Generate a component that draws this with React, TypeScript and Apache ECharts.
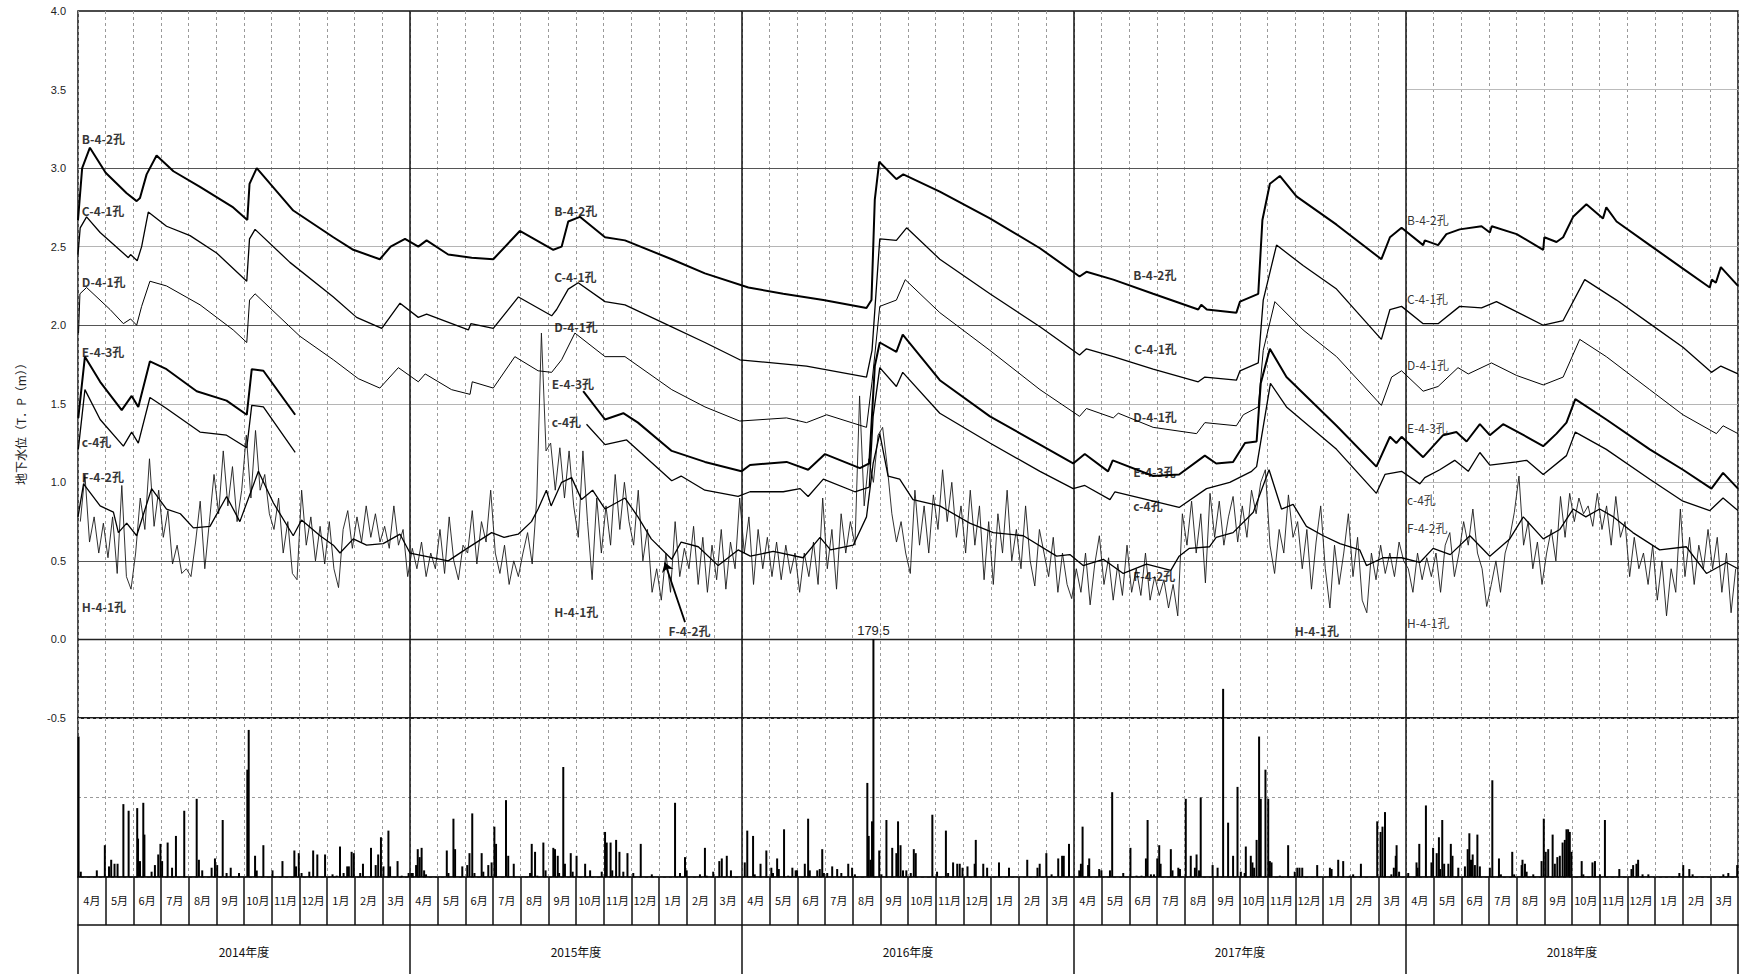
import React, { useEffect, useRef } from 'react';
import * as echarts from 'echarts';

// x = months since April 2014 (0..60), y = T.P. (m)
const MONTHS = ['4月', '5月', '6月', '7月', '8月', '9月', '10月', '11月', '12月', '1月', '2月', '3月'];
const YEARS = ['2014年度', '2015年度', '2016年度', '2017年度', '2018年度'];

const B42: (number | null)[][] = [[0,2.67],[0.15,3.0],[0.43,3.13],[1.0,2.97],[1.76,2.84],[2.12,2.79],[2.24,2.81],[2.48,2.96],[2.84,3.08],[3.45,2.98],[4.41,2.88],[5.61,2.75],[6.12,2.67],[6.2,2.9],[6.46,3.0],[7.78,2.73],[9.23,2.56],[9.95,2.48],[10.91,2.42],[11.3,2.5],[11.82,2.55],[12.3,2.5],[12.6,2.54],[13.38,2.45],[14.23,2.43],[15.01,2.42],[15.97,2.6],[17.18,2.48],[17.48,2.5],[17.72,2.66],[18.14,2.69],[19.05,2.56],[19.77,2.54],[21.46,2.42],[22.66,2.33],[24.23,2.24],[25.49,2.2],[26.94,2.16],[28.5,2.11],[28.68,2.16],[28.8,2.8],[28.96,3.04],[29.58,2.93],[29.83,2.96],[31.15,2.85],[32.96,2.68],[34.77,2.49],[36.2,2.31],[36.45,2.34],[37.42,2.29],[38.86,2.2],[40.49,2.1],[40.6,2.13],[40.8,2.1],[41.87,2.08],[42.0,2.15],[42.66,2.2],[42.81,2.67],[43.08,2.9],[43.44,2.95],[44.04,2.82],[45.49,2.64],[47.11,2.42],[47.42,2.56],[47.84,2.62],[48.62,2.51],[48.68,2.54],[49.16,2.51],[49.46,2.58],[49.94,2.61],[50.73,2.63],[51.03,2.59],[51.1,2.63],[52.0,2.58],[52.96,2.48],[53.0,2.56],[53.44,2.53],[53.68,2.56],[54.04,2.69],[54.52,2.77],[55.12,2.68],[55.24,2.75],[55.61,2.66],[56.81,2.51],[58.01,2.36],[58.98,2.24],[59.05,2.29],[59.2,2.27],[59.38,2.37],[60,2.25]];

const C41: (number | null)[][] = [[0,2.45],[0.08,2.62],[0.31,2.69],[0.8,2.59],[1.82,2.43],[1.9,2.45],[2.14,2.41],[2.3,2.5],[2.54,2.72],[3.2,2.63],[4.05,2.57],[5.01,2.46],[6.1,2.28],[6.2,2.55],[6.4,2.61],[7.66,2.4],[9.23,2.18],[10.07,2.05],[10.98,1.98],[11.64,2.14],[12.3,2.05],[12.6,2.07],[14.11,1.97],[14.2,2.01],[15.01,1.98],[15.92,2.18],[17.12,2.06],[17.3,2.1],[17.72,2.23],[18.08,2.27],[19.05,2.15],[19.77,2.13],[21.46,1.99],[22.66,1.89],[23.92,1.78],[26.33,1.74],[28.5,1.67],[28.7,1.84],[28.98,2.55],[29.58,2.54],[29.95,2.62],[31.15,2.42],[32.96,2.2],[34.77,1.99],[36.2,1.81],[36.45,1.85],[37.42,1.8],[38.86,1.72],[40.49,1.64],[40.73,1.67],[41.87,1.65],[42.0,1.71],[42.66,1.76],[42.84,2.16],[43.32,2.51],[44.28,2.38],[45.49,2.23],[47.11,1.91],[47.42,2.1],[47.84,2.12],[48.62,2.01],[49.16,2.01],[49.94,2.12],[50.73,2.11],[51.27,2.15],[52.96,2.0],[53.68,2.03],[54.46,2.29],[55.61,2.16],[56.81,2.01],[58.01,1.86],[59.04,1.7],[59.38,1.74],[60,1.69]];

const D41: (number | null)[][] = [[0.02,1.95],[0.07,2.2],[0.31,2.24],[1.16,2.1],[1.64,2.01],[1.9,2.04],[2.12,2.0],[2.3,2.12],[2.6,2.28],[3.2,2.25],[4.41,2.13],[5.61,1.97],[6.1,1.89],[6.2,2.16],[6.4,2.2],[8.02,1.93],[9.23,1.78],[10.13,1.66],[10.91,1.6],[11.58,1.73],[12.3,1.64],[12.55,1.69],[13.5,1.59],[14.17,1.56],[14.25,1.64],[15.01,1.6],[15.79,1.8],[16.63,1.71],[17.12,1.7],[17.48,1.78],[17.96,1.95],[19.05,1.8],[19.77,1.8],[21.46,1.59],[22.66,1.48],[23.92,1.39],[25.61,1.41],[26.33,1.38],[27.06,1.43],[28.5,1.35],[28.7,1.64],[28.98,2.12],[29.58,2.16],[29.9,2.29],[31.15,2.08],[32.96,1.84],[34.77,1.59],[36.2,1.42],[36.45,1.47],[37.42,1.41],[37.6,1.44],[38.86,1.35],[40.43,1.31],[40.73,1.38],[41.87,1.36],[42.12,1.43],[42.66,1.48],[42.84,1.84],[43.26,2.15],[44.28,1.97],[45.49,1.8],[47.11,1.49],[47.48,1.67],[47.84,1.71],[48.62,1.58],[49.16,1.61],[49.88,1.73],[50.25,1.69],[51.09,1.76],[52.0,1.68],[52.96,1.62],[53.68,1.67],[54.28,1.91],[55.24,1.8],[56.81,1.59],[58.01,1.43],[59.22,1.31],[59.46,1.36],[60,1.31]];

const E43: (number | null)[][] = [[0.01,1.41],[0.25,1.8],[0.8,1.64],[1.58,1.46],[1.94,1.55],[2.18,1.48],[2.6,1.77],[3.2,1.72],[4.29,1.58],[5.37,1.52],[6.1,1.43],[6.28,1.72],[6.7,1.71],[7.85,1.43],[13,null],[18.26,1.58],[19.05,1.4],[19.71,1.44],[20.24,1.38],[21.46,1.2],[22.66,1.13],[23.98,1.07],[24.29,1.11],[25.61,1.13],[26.39,1.08],[27.0,1.18],[28.26,1.09],[28.6,1.12],[28.8,1.74],[28.98,1.89],[29.58,1.83],[29.81,1.94],[31.15,1.65],[32.96,1.42],[34.77,1.24],[35.97,1.12],[36.39,1.18],[37.23,1.07],[37.4,1.14],[38.86,1.04],[39.8,1.05],[40.73,1.17],[41.14,1.12],[41.75,1.13],[42.18,1.25],[42.6,1.26],[42.75,1.63],[43.08,1.85],[43.68,1.67],[45.49,1.36],[46.93,1.1],[47.42,1.29],[47.65,1.25],[47.84,1.29],[48.62,1.16],[49.34,1.3],[49.82,1.32],[50.19,1.26],[50.67,1.37],[51.03,1.3],[51.51,1.37],[52.36,1.29],[52.96,1.23],[53.44,1.31],[53.8,1.38],[54.12,1.53],[55.24,1.4],[56.81,1.21],[58.01,1.08],[59.04,0.96],[59.46,1.06],[60,0.96]];

const C4: (number | null)[][] = [[0.01,1.21],[0.25,1.59],[0.8,1.4],[1.64,1.23],[1.94,1.32],[2.18,1.25],[2.6,1.54],[3.2,1.47],[4.41,1.32],[5.37,1.3],[6.1,1.22],[6.28,1.49],[6.7,1.48],[7.85,1.19],[13,null],[18.38,1.37],[19.05,1.24],[19.83,1.27],[21.46,1.01],[21.8,1.04],[22.66,0.95],[23.86,0.91],[24.29,0.94],[25.49,0.94],[26.1,0.96],[26.39,0.91],[26.94,1.02],[28.08,0.94],[28.6,0.97],[28.74,1.42],[28.98,1.73],[29.58,1.61],[29.81,1.7],[31.15,1.44],[32.96,1.25],[34.77,1.07],[35.97,0.96],[36.39,0.98],[37.3,0.89],[37.48,0.94],[39.8,0.84],[40.79,0.96],[41.63,1.0],[42.42,1.07],[42.6,1.1],[43.1,1.63],[43.68,1.48],[45.49,1.21],[46.93,0.93],[47.24,1.05],[47.84,1.07],[48.5,0.99],[48.68,1.03],[49.22,1.08],[49.76,1.14],[50.25,1.07],[50.67,1.19],[51.03,1.11],[52.0,1.13],[52.36,1.14],[52.96,1.05],[53.8,1.17],[54.12,1.32],[55.24,1.21],[56.81,1.02],[58.01,0.88],[58.98,0.82],[59.46,0.9],[60,0.82]];

const F42: (number | null)[][] = [[0,0.78],[0.2,0.99],[0.8,0.85],[1.28,0.81],[1.46,0.68],[1.76,0.74],[2.12,0.66],[2.66,0.96],[3.2,0.83],[3.7,0.8],[4.17,0.71],[4.77,0.72],[5.37,0.91],[5.85,0.75],[6.52,1.07],[7.06,0.87],[7.78,0.66],[8.08,0.76],[8.75,0.66],[9.23,0.6],[9.47,0.55],[9.95,0.64],[10.43,0.6],[11.03,0.61],[11.64,0.67],[12.0,0.55],[13.38,0.5],[13.98,0.57],[14.95,0.68],[15.4,0.65],[15.91,0.67],[16.39,0.75],[16.63,0.83],[16.93,0.95],[17.1,0.85],[17.48,1.0],[17.84,1.03],[18.2,0.89],[18.6,0.95],[19.05,0.83],[19.77,0.9],[20.24,0.78],[20.72,0.64],[21.46,0.51],[21.8,0.62],[22.42,0.59],[23.14,0.47],[23.86,0.57],[24.3,0.53],[25.13,0.56],[26.21,0.52],[26.82,0.65],[27.2,0.57],[28.02,0.6],[28.5,0.78],[28.74,1.12],[28.98,1.31],[29.28,1.04],[29.7,1.02],[30.18,0.89],[31.15,0.85],[32.23,0.74],[33.08,0.68],[34.17,0.66],[35.37,0.53],[35.85,0.54],[36.33,0.47],[37.06,0.51],[37.78,0.42],[38.62,0.48],[39.5,0.44],[39.8,0.53],[40.17,0.58],[40.9,0.59],[41.14,0.65],[41.75,0.68],[42.48,0.81],[43.05,1.08],[43.5,0.83],[43.92,0.86],[44.4,0.72],[45.01,0.66],[45.61,0.61],[46.33,0.57],[46.57,0.47],[47.17,0.52],[47.84,0.52],[48.5,0.49],[48.98,0.58],[49.6,0.54],[50.31,0.66],[51.03,0.53],[51.75,0.64],[52.24,0.78],[52.96,0.64],[53.56,0.7],[54.04,0.83],[54.5,0.78],[55.0,0.83],[55.5,0.78],[56.2,0.68],[57.17,0.57],[58.13,0.59],[58.86,0.42],[59.58,0.49],[60,0.45]];

// H-4-1孔: six readings per month, April 2014 .. March 2019
const H41: number[] = [
  0.75,1.05,0.62,0.78,0.55,0.74, 0.52,0.78,0.42,0.98,0.40,0.32, 0.55,0.90,0.70,1.15,0.72,0.95,
  0.65,0.82,0.48,0.60,0.42,0.45, 0.40,0.62,0.88,0.45,0.75,1.05, 0.80,1.20,0.85,1.10,0.75,0.95,
  1.30,0.90,1.33,0.95,1.05,0.80, 0.70,0.90,0.55,0.75,0.42,0.38, 0.95,0.60,0.78,0.50,0.72,0.48,
  0.75,0.45,0.33,0.70,0.82,0.58, 0.78,0.62,0.85,0.65,0.80,0.62, 0.72,0.58,0.85,0.60,0.70,0.40,
  0.58,0.45,0.62,0.40,0.55,0.45, 0.70,0.42,0.78,0.50,0.38,0.60, 0.55,0.82,0.48,0.75,0.62,0.95,
  0.55,0.42,0.60,0.35,0.50,0.40, 0.55,0.68,0.48,0.90,1.95,1.20, 1.25,0.95,1.22,0.90,1.20,0.85,
  0.65,1.20,0.75,0.38,0.90,0.55, 0.85,0.60,1.05,0.70,1.00,0.75, 0.60,0.95,0.50,0.70,0.30,0.45,
  0.25,0.55,0.30,0.75,0.40,0.58, 0.45,0.72,0.35,0.65,0.30,0.60, 0.38,0.70,0.32,0.62,0.45,0.90,
  0.55,0.78,0.35,0.70,0.45,0.65, 0.40,0.62,0.38,0.60,0.42,0.55, 0.30,0.55,0.40,0.62,0.35,0.90,
  0.45,0.70,0.32,0.80,0.55,0.75, 0.60,1.55,0.85,1.15,1.00,1.30, 1.35,1.10,0.80,0.62,0.75,0.55,
  0.42,0.95,0.60,0.85,0.55,0.92, 0.70,1.08,0.75,1.00,0.65,0.85, 0.55,0.95,0.60,0.85,0.38,0.75,
  0.35,0.80,0.55,0.95,0.50,0.70, 0.45,0.85,0.50,0.34,0.70,0.55, 0.40,0.65,0.30,0.55,0.35,0.26,
  0.45,0.30,0.55,0.22,0.48,0.66, 0.35,0.52,0.25,0.48,0.28,0.60, 0.30,0.45,0.28,0.55,0.25,0.40,
  0.28,0.38,0.20,0.35,0.15,0.80, 0.60,0.88,0.55,0.80,0.36,0.93, 0.65,0.88,0.60,0.78,0.91,0.62,
  0.85,0.65,0.95,0.80,1.00,1.08, 0.60,0.42,0.70,0.55,0.92,0.65, 0.75,0.45,0.70,0.32,0.62,0.85,
  0.45,0.20,0.60,0.35,0.55,0.80, 0.40,0.65,0.25,0.17,0.55,0.38, 0.60,0.42,0.55,0.40,0.62,0.50,
  0.45,0.30,0.55,0.38,0.52,0.40, 0.55,0.30,0.60,0.68,0.40,0.55, 0.75,0.60,0.83,0.55,0.45,0.21,
  0.35,0.50,0.30,0.55,0.65,0.81, 1.04,0.60,0.75,0.45,0.62,0.35, 0.55,0.70,0.50,0.91,0.65,0.93,
  0.75,0.90,0.80,0.85,0.72,0.93, 0.70,0.85,0.60,0.91,0.65,0.75, 0.40,0.65,0.45,0.55,0.35,0.60,
  0.25,0.50,0.15,0.45,0.30,0.83, 0.40,0.65,0.35,0.60,0.45,0.70, 0.45,0.65,0.30,0.55,0.17,0.45,
];

// daily rainfall (mm): [month position, mm]
const RAIN: number[][] = [
  [0.02,106],[0.1,4],[0.68,5],[0.97,24],[1.12,8],[1.2,13],[1.32,10],[1.43,10],[1.64,55],[1.83,50],[2.14,52],[2.17,29],[2.24,12],[2.36,56],[2.4,32],[2.66,4],[2.78,9],[2.9,17],[2.98,25],[3.04,12],[3.24,26],[3.4,7],[3.54,31],[3.84,50],[4.29,59],[4.37,13],[4.49,5],[4.83,7],[4.95,14],[5.03,9],[5.23,43],[5.37,3],[5.52,7],[5.82,3],[6.12,81],[6.17,111],[6.4,16],[6.46,5],[6.7,24],[7.03,5],[7.39,12],[7.82,20],[7.88,8],[7.98,18],[8.08,3],[8.36,4],[8.5,20],[8.65,17],[8.93,17],[9.2,2],[9.35,1],[9.47,23],[9.6,3],[9.73,8],[9.79,8],[9.89,19],[9.97,18],[10.2,3],[10.3,10],[10.59,22],[10.76,9],[10.85,17],[10.95,30],[11.04,8],[11.22,35],[11.28,8],[11.55,12],[11.7,1],[11.95,3],
  [12.04,3],[12.1,3],[12.22,9],[12.28,21],[12.35,15],[12.42,22],[12.51,5],[12.58,2],[13.33,20],[13.39,3],[13.57,44],[13.63,21],[13.89,8],[14.07,9],[14.15,18],[14.25,48],[14.33,3],[14.59,18],[14.65,4],[14.83,9],[14.95,11],[15.05,38],[15.11,25],[15.47,58],[15.55,16],[15.75,10],[16.34,3],[16.4,25],[16.52,19],[16.6,1],[16.82,26],[16.9,5],[17.18,22],[17.24,21],[17.34,16],[17.39,3],[17.54,83],[17.6,10],[17.81,18],[17.88,4],[18.02,16],[18.33,10],[18.51,5],[18.93,4],[19.05,34],[19.11,26],[19.25,26],[19.31,5],[19.45,28],[19.57,19],[19.71,4],[19.86,18],[20.07,3],[20.34,25],[20.74,2],[21.58,56],[21.76,3],[21.94,15],[22.0,5],[22.48,2],[22.66,22],[22.72,1],[22.96,4],[23.18,12],[23.27,14],[23.45,16],[23.6,5],
  [24.1,11],[24.19,35],[24.4,31],[24.46,2],[24.67,10],[24.88,20],[25.06,7],[25.12,3],[25.27,14],[25.33,6],[25.52,36],[25.67,1],[25.82,7],[25.94,5],[25.99,5],[26.27,10],[26.39,44],[26.45,5],[26.72,5],[26.81,6],[26.9,21],[26.96,3],[27.08,3],[27.26,8],[27.44,6],[27.59,3],[27.84,10],[27.98,7],[28.08,2],[28.53,71],[28.58,31],[28.64,13],[28.7,42],[28.75,179.5],[28.96,20],[29.04,2],[29.22,43],[29.43,22],[29.58,18],[29.64,42],[29.73,24],[29.82,5],[29.94,5],[30.1,3],[30.21,21],[30.28,18],[30.88,47],[31.05,4],[31.37,35],[31.45,3],[31.63,11],[31.78,10],[31.87,10],[31.97,7],[32.15,8],[32.41,10],[32.45,28],[32.72,10],[32.86,7],[33.29,11],[33.65,7],[34.31,13],[34.68,7],[34.76,10],[35.0,18],[35.19,2],[35.43,14],[35.57,16],[35.63,16],[35.82,25],
  [36.19,5],[36.25,10],[36.31,38],[36.51,9],[36.55,14],[36.91,6],[36.99,5],[37.3,5],[37.38,64],[37.78,3],[38.04,22],[38.26,1],[38.44,1],[38.6,14],[38.66,43],[38.78,2],[38.89,2],[39.01,14],[39.08,24],[39.13,10],[39.5,21],[39.56,5],[39.77,7],[39.83,6],[40.04,59],[40.22,16],[40.37,7],[40.43,17],[40.52,5],[40.58,60],[41.01,9],[41.19,7],[41.39,142],[41.57,41],[41.75,16],[41.91,68],[42.03,4],[42.17,3],[42.21,23],[42.39,16],[42.45,11],[42.51,7],[42.6,28],[42.69,106],[42.75,59],[42.92,81],[43.02,59],[43.08,12],[43.14,11],[43.44,1],[43.74,24],[43.98,4],[44.07,7],[44.15,7],[44.25,7],[44.79,9],[45.25,7],[45.31,6],[45.55,13],[45.73,12],[45.97,1],[46.09,2],[46.37,10],[46.96,42],[47.08,34],[47.15,38],[47.24,49],[47.47,2],[47.56,7],[47.63,16],[47.66,24],[47.75,4],
  [48.08,3],[48.38,11],[48.42,7],[48.48,25],[48.72,54],[48.92,11],[48.98,22],[49.11,18],[49.19,30],[49.23,6],[49.31,43],[49.38,10],[49.53,10],[49.62,25],[49.68,16],[49.89,7],[50.13,8],[50.23,21],[50.29,33],[50.35,13],[50.41,17],[50.49,9],[50.58,32],[50.67,8],[51.03,7],[51.12,73],[51.36,14],[51.43,2],[51.84,19],[51.91,2],[52.18,9],[52.21,13],[52.3,10],[52.36,4],[52.6,2],[52.9,12],[52.98,44],[53.05,19],[53.14,21],[53.3,32],[53.38,10],[53.47,15],[53.56,16],[53.66,26],[53.74,28],[53.8,36],[53.86,36],[53.92,34],[53.98,19],[54.35,12],[54.41,2],[54.74,11],[54.83,12],[55.01,2],[55.19,43],[55.71,6],[56.15,6],[56.21,9],[56.33,10],[56.39,13],[56.55,2],[56.76,2],[57.88,3],[58.02,9],[58.24,6],[58.36,2],[59.47,2],[59.65,3],[59.97,9],
];

// well name annotations: [month position, level, text]
const LABELS: (number | string)[][] = [
  [0.14,3.19,'B-4-2孔'],[0.14,2.73,'C-4-1孔'],[0.14,2.28,'D-4-1孔'],[0.14,1.83,'E-4-3孔'],[0.14,1.26,'c-4孔'],[0.14,1.04,'F-4-2孔'],[0.14,0.21,'H-4-1孔'],
  [17.21,2.73,'B-4-2孔'],[17.21,2.31,'C-4-1孔'],[17.21,1.99,'D-4-1孔'],[17.12,1.63,'E-4-3孔'],[17.12,1.39,'c-4孔'],[17.21,0.18,'H-4-1孔'],[21.34,0.06,'F-4-2孔'],
  [38.14,2.32,'B-4-2孔'],[38.18,1.85,'C-4-1孔'],[38.14,1.42,'D-4-1孔'],[38.14,1.07,'E-4-3孔'],[38.14,0.85,'c-4孔'],[38.14,0.41,'F-4-2孔'],[43.98,0.06,'H-4-1孔'],
  [48.04,2.67,'B-4-2孔'],[48.04,2.17,'C-4-1孔'],[48.04,1.75,'D-4-1孔'],[48.04,1.35,'E-4-3孔'],[48.04,0.89,'c-4孔'],[48.04,0.71,'F-4-2孔'],[48.04,0.11,'H-4-1孔'],
];
const ARROW = [[21.94, 0.11], [21.21, 0.49]];

const YEAR_BOUNDS = [12, 24, 36, 48];
const LEVEL_LINES = [3.0, 2.5, 2.0, 1.5, 0.5, 0.0];
const LEVEL_LINES_2018 = [3.5, 1.0];
const Y_AXIS_NAME = '地下水位（T．P（m））';

const FONT = '"Liberation Sans", "Noto Sans CJK JP", sans-serif';
const CJK = '"Noto Sans CJK JP", "Liberation Sans", sans-serif';

export default function App() {
  const ref = useRef<HTMLDivElement>(null);
  useEffect(() => {
    if (!ref.current) return;
    const chart = echarts.init(ref.current, null, { renderer: 'svg' });
    const monthCats = YEARS.flatMap((_, yi) => MONTHS.map((m) => `${yi}|${m}`));
    const h41Data = H41.map((v, i) => [(i + 0.5) / 6, v]);
    const labelData = LABELS.map((d) => ({
      value: d,
      label: { fontWeight: (d[0] as number) >= 48 ? 'normal' : 'bold' },
    }));
    const lineS = (name: string, data: any[], width: number, color: string, z: number, extra: any = {}) => ({
      type: 'line', name, data, xAxisIndex: 0, yAxisIndex: 0, showSymbol: false, symbol: 'none',
      connectNulls: false, silent: true, z, lineStyle: { width, color }, ...extra,
    });
    const levelStyle = (v: number) => {
      if (v === 0) return { color: '#222', width: 1.3, type: 'solid' };
      if (Math.abs(v % 1) === 0.5 && v !== 0.5) return { color: '#b5b5b5', width: 1, type: 'solid' };
      return { color: '#555', width: 1, type: 'solid' };
    };
    const option: any = {
      animation: false,
      textStyle: { fontFamily: FONT },
      grid: [
        { left: 78, right: 9, top: 11, height: 707, show: true, borderColor: '#111', borderWidth: 1.5 },
        { left: 78, right: 9, top: 718, height: 159, show: true, borderColor: '#111', borderWidth: 1.5 },
      ],
      xAxis: [
        { type: 'value', gridIndex: 0, min: 0, max: 60, interval: 1, axisLabel: { show: false }, axisTick: { show: false }, axisLine: { show: false },
          splitLine: { show: true, lineStyle: { color: '#9a9a9a', width: 1, type: [3, 3] } } },
        { type: 'value', gridIndex: 1, min: 0, max: 60, interval: 1, axisLabel: { show: false }, axisTick: { show: false }, axisLine: { show: false },
          splitLine: { show: true, lineStyle: { color: '#9a9a9a', width: 1, type: [3, 3] } } },
        { type: 'category', gridIndex: 1, position: 'bottom', data: monthCats, boundaryGap: true,
          axisLine: { show: true, lineStyle: { color: '#111', width: 1.5 } },
          axisTick: { show: true, length: 48, interval: 0, lineStyle: { color: '#111', width: 1.5 } },
          axisLabel: { interval: 0, margin: 17, fontSize: 11, color: '#111', fontFamily: CJK, formatter: (v: string) => v.split('|')[1] },
          splitLine: { show: false } },
        { type: 'category', gridIndex: 1, position: 'bottom', offset: 48, data: YEARS, boundaryGap: true,
          axisLine: { show: true, lineStyle: { color: '#111', width: 1.5 } },
          axisTick: { show: true, length: 60, interval: 0, lineStyle: { color: '#111', width: 1.5 } },
          axisLabel: { interval: 0, margin: 20, fontSize: 12, color: '#111', fontFamily: CJK },
          splitLine: { show: false } },
      ],
      yAxis: [
        { type: 'value', gridIndex: 0, min: -0.5, max: 4.0, interval: 0.5,
          axisLabel: { formatter: (v: number) => v.toFixed(1), fontSize: 11, color: '#222', margin: 12 },
          axisLine: { show: false }, axisTick: { show: false }, splitLine: { show: false } },
        { type: 'value', gridIndex: 1, min: 0, max: 120, interval: 60, axisLabel: { show: false }, axisLine: { show: false }, axisTick: { show: false },
          splitLine: { show: true, lineStyle: { color: '#999', width: 1, type: [3, 3] } } },
      ],
      graphic: [
        { type: 'text', x: 20, y: 421, rotation: Math.PI / 2,
          style: { text: Y_AXIS_NAME, align: 'center', verticalAlign: 'middle', fontSize: 12, fontFamily: CJK, fill: '#222' } },
      ],
      series: [
        lineS('H-4-1孔', h41Data, 0.9, '#1a1a1a', 2),
        lineS('F-4-2孔', F42, 1.3, '#000', 3, {
          markLine: { silent: true, symbol: ['none', 'arrow'], symbolSize: 9, label: { show: false },
            lineStyle: { color: '#000', width: 1.8, type: 'solid' },
            data: [[{ coord: ARROW[0] }, { coord: ARROW[1] }]] },
        }),
        lineS('c-4孔', C4, 1.3, '#000', 4),
        lineS('E-4-3孔', E43, 2, '#000', 4),
        lineS('D-4-1孔', D41, 1, '#000', 4),
        lineS('C-4-1孔', C41, 1.3, '#000', 4),
        lineS('B-4-2孔', B42, 2, '#000', 4, {
          markLine: { silent: true, symbol: ['none', 'none'], label: { show: false }, z: 1,
            data: [
              ...LEVEL_LINES.map((v) => ({ yAxis: v, lineStyle: levelStyle(v) })),
              ...LEVEL_LINES_2018.map((v) => [
                { coord: [48, v], lineStyle: { color: '#bbb', width: 1, type: 'solid' } },
                { coord: [60, v] },
              ]),
              ...YEAR_BOUNDS.map((x) => ({ xAxis: x, lineStyle: { color: '#111', width: 1.5, type: 'solid' } })),
            ] },
        }),
        {
          type: 'scatter', xAxisIndex: 0, yAxisIndex: 0, symbolSize: 0, silent: true, z: 6,
          data: labelData,
          label: {
            show: true, position: 'right', distance: 0, fontSize: 12, color: '#000', fontFamily: CJK,
            formatter: (p: any) => p.value[2],
          },
          labelLayout: { hideOverlap: false },
        },
        {
          type: 'bar', name: '降水量', xAxisIndex: 1, yAxisIndex: 1, barWidth: 2, clip: false, silent: true, z: 3,
          itemStyle: { color: '#000' },
          data: RAIN.map((d) => (d[1] > 150
            ? { value: d, label: { show: true, position: 'top', distance: 2, fontSize: 13, color: '#222', formatter: String(d[1]) } }
            : { value: d })),
          markLine: { silent: true, symbol: ['none', 'none'], label: { show: false },
            data: YEAR_BOUNDS.map((x) => ({ xAxis: x, lineStyle: { color: '#111', width: 1.5, type: 'solid' } })) },
        },
      ],
    };
    chart.setOption(option);
    return () => chart.dispose();
  }, []);
  return (
    <div
      ref={ref}
      style={{ position: 'fixed', left: 0, top: 0, width: 1747, height: 974, background: '#fff' }}
    />
  );
}
